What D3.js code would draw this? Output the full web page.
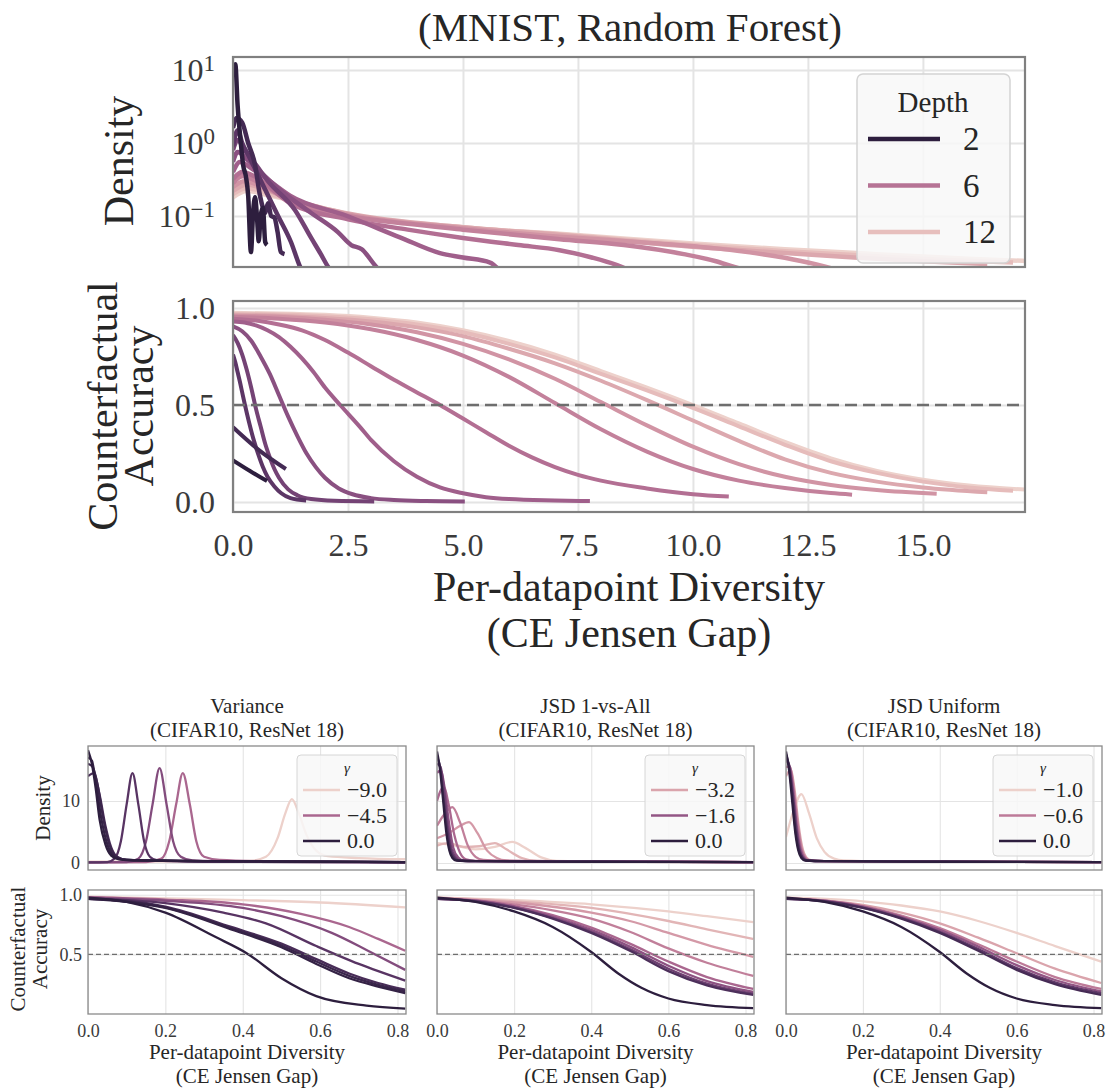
<!DOCTYPE html>
<html>
<head>
<meta charset="utf-8">
<script src="https://cdn.jsdelivr.net/npm/d3@7"></script>
<style>
  body { margin: 0; background: #fff; }
  svg { display: block; }
</style>
</head>
<body>
<div id="chart"></div>
<script>
// ---------- data: MNIST random forest (top) ----------
const depths = [2, 3, 4, 5, 6, 7, 8, 9, 10, 11, 12, 13];
const depthLegend = [2, 6, 12];

// [diversity, density] per depth
const mnistDensity = [
  [[0,9],[0.05,12],[0.1,3.3],[0.17,1.0],[0.22,0.5],[0.28,0.35],[0.33,0.19],[0.39,0.032],[0.44,0.12],[0.48,0.18],[0.52,0.1],[0.56,0.045],[0.6,0.1],[0.65,0.13],[0.7,0.044],[0.74,0.04]],
  [[0,1.6],[0.08,2.2],[0.2,1.9],[0.33,1.0],[0.48,0.5],[0.58,0.2],[0.65,0.13],[0.7,0.11],[0.76,0.15],[0.83,0.1],[0.9,0.095],[0.97,0.06],[1.04,0.032],[1.12,0.03]],
  [[0,0.9],[0.1,1.5],[0.2,1.0],[0.33,0.69],[0.61,0.3],[0.98,0.1],[1.26,0.044],[1.46,0.02],[1.59,0.014]],
  [[0,0.8],[0.1,1.1],[0.25,0.8],[0.5,0.5],[0.76,0.3],[1.35,0.12],[1.7,0.05],[1.91,0.03],[2.07,0.02],[2.3,0.014]],
  [[0,0.55],[0.1,0.75],[0.3,0.6],[0.6,0.4],[0.98,0.24],[1.7,0.11],[2.28,0.06],[2.57,0.04],[2.8,0.035],[3.09,0.021],[3.3,0.015]],
  [[0,0.4],[0.15,0.55],[0.4,0.45],[0.8,0.3],[1.24,0.19],[2.48,0.1],[3.63,0.051],[4.5,0.031],[5.0,0.027],[5.59,0.023],[5.8,0.018]],
  [[0,0.32],[0.2,0.4],[0.5,0.34],[1.24,0.15],[2.5,0.09],[3.8,0.065],[5,0.05],[6.2,0.04],[7.1,0.034],[7.8,0.027],[8.46,0.02],[8.8,0.016]],
  [[0,0.28],[0.2,0.35],[0.6,0.28],[1.24,0.16],[2.5,0.1],[3.8,0.078],[5,0.065],[7.1,0.048],[8.5,0.04],[9.8,0.03],[10.5,0.024],[10.9,0.02],[11.3,0.017]],
  [[0,0.25],[0.25,0.3],[0.7,0.24],[1.24,0.165],[2.5,0.105],[5,0.068],[7.1,0.052],[9,0.043],[10.5,0.036],[11.8,0.028],[12.5,0.023],[12.9,0.02],[13.3,0.017]],
  [[0,0.22],[0.3,0.27],[0.8,0.22],[1.24,0.17],[2.5,0.108],[5,0.07],[7.1,0.055],[10,0.038],[12,0.031],[13.5,0.027],[15,0.024],[16.4,0.022]],
  [[0,0.2],[0.3,0.24],[0.8,0.2],[1.24,0.168],[2.5,0.106],[5,0.07],[7.1,0.056],[10,0.04],[12,0.033],[14,0.028],[15.5,0.025],[16.96,0.023]],
  [[0,0.18],[0.3,0.22],[0.8,0.19],[1.24,0.165],[2.5,0.104],[5,0.069],[7.1,0.057],[10,0.042],[12,0.035],[14,0.03],[16,0.026],[17.4,0.024]]
];

// [diversity, counterfactual accuracy] per depth
const mnistAccuracy = [
  [[0,0.215],[0.37,0.16],[0.74,0.108]],
  [[0,0.385],[0.55,0.27],[1.15,0.17]],
  [[0,0.76],[0.05,0.72],[0.1,0.67],[0.15,0.62],[0.2,0.565],[0.26,0.5],[0.35,0.41],[0.45,0.32],[0.55,0.245],[0.65,0.18],[0.75,0.13],[0.9,0.08],[1.05,0.045],[1.25,0.02],[1.59,0.008]],
  [[0,0.86],[0.1,0.82],[0.2,0.76],[0.3,0.68],[0.4,0.585],[0.5,0.48],[0.6,0.39],[0.7,0.3],[0.8,0.23],[0.9,0.17],[1.0,0.125],[1.2,0.065],[1.4,0.035],[1.7,0.015],[2.2,0.006],[3.07,0.003]],
  [[0,0.905],[0.2,0.88],[0.4,0.83],[0.6,0.75],[0.8,0.66],[1.0,0.55],[1.2,0.44],[1.4,0.34],[1.6,0.25],[1.8,0.18],[2.0,0.125],[2.3,0.07],[2.6,0.04],[3,0.02],[3.5,0.01],[4.2,0.005],[5.04,0.003]],
  [[0,0.93],[0.25,0.925],[0.5,0.91],[0.75,0.885],[1,0.85],[1.25,0.8],[1.5,0.74],[1.75,0.67],[2,0.59],[2.33,0.5],[2.75,0.39],[3,0.32],[3.5,0.21],[4,0.13],[4.5,0.075],[5,0.045],[5.5,0.025],[6,0.015],[7,0.008],[7.76,0.005]],
  [[0,0.945],[0.5,0.935],[1,0.915],[1.5,0.885],[2,0.835],[2.5,0.77],[3,0.7],[3.5,0.63],[4,0.565],[4.5,0.5],[5,0.43],[5.5,0.36],[6,0.29],[6.5,0.23],[7,0.18],[7.5,0.14],[8,0.11],[9,0.07],[10,0.04],[10.78,0.028]],
  [[0,0.955],[1,0.945],[2,0.925],[3,0.89],[4,0.835],[5,0.755],[6,0.645],[7,0.51],[8,0.375],[9,0.26],[10,0.17],[11,0.11],[12,0.072],[13,0.046],[13.46,0.038]],
  [[0,0.96],[1,0.955],[2,0.94],[3,0.915],[4,0.875],[5,0.815],[6,0.735],[7,0.635],[8,0.515],[9,0.395],[10,0.285],[11,0.195],[12,0.13],[13,0.088],[14,0.062],[15.3,0.042]],
  [[0,0.965],[1,0.96],[2,0.948],[3,0.93],[4,0.9],[5,0.855],[6,0.79],[7,0.715],[8,0.625],[9,0.525],[10,0.42],[11,0.315],[12,0.22],[13,0.15],[14,0.105],[15,0.075],[16.4,0.05]],
  [[0,0.97],[1,0.967],[2,0.958],[3,0.942],[4,0.915],[5,0.875],[6,0.815],[7,0.745],[8,0.66],[9,0.575],[10,0.485],[11,0.39],[12,0.295],[13,0.21],[14,0.15],[15,0.105],[16,0.075],[16.96,0.058]],
  [[0,0.975],[1,0.972],[2,0.965],[3,0.95],[4,0.925],[5,0.885],[6,0.83],[7,0.76],[8,0.675],[9,0.59],[10,0.5],[11,0.405],[12,0.31],[13,0.225],[14,0.16],[15,0.115],[16,0.085],[17.4,0.062]]
];

const topXTicks = [0, 2.5, 5, 7.5, 10, 12.5, 15];
const topDensTicks = [0.1, 1, 10];
const accTicks = [0, 0.5, 1.0];

// ---------- data: CIFAR10 ResNet 18 (bottom) ----------
const varianceGamma = [0, -0.25, -0.5, -1, -1.5, -3, -4.5, -9];
const varianceLegend = [-9, -4.5, 0];
const varianceDensity = [
  [[0,18.2],[0.01,16],[0.02,12],[0.03,7],[0.045,3],[0.06,1.2],[0.08,0.6],[0.12,0.4],[0.3,0.3],[0.6,0.2],[0.82,0.15]],
  [[0,17],[0.01,16.5],[0.02,13],[0.035,7],[0.05,3],[0.065,1.2],[0.085,0.6],[0.12,0.45],[0.3,0.3],[0.6,0.2],[0.82,0.15]],
  [[0,16],[0.012,15.5],[0.025,12.5],[0.04,7],[0.055,3],[0.07,1.2],[0.09,0.6],[0.13,0.45],[0.3,0.3],[0.82,0.15]],
  [[0,14],[0.015,14.5],[0.03,11],[0.045,6],[0.06,2.5],[0.075,1.0],[0.1,0.5],[0.3,0.3],[0.82,0.15]],
  [[0,0.1],[0.05,0.15],[0.07,0.8],[0.085,3.5],[0.1,9.5],[0.115,14.5],[0.13,9.5],[0.145,3.5],[0.16,1.0],[0.18,0.4],[0.3,0.2],[0.82,0.1]],
  [[0,0.1],[0.1,0.15],[0.13,0.7],[0.15,3.5],[0.167,9.5],[0.185,15.3],[0.203,9.5],[0.22,3.5],[0.24,1.0],[0.27,0.4],[0.4,0.2],[0.82,0.1]],
  [[0,0.1],[0.15,0.15],[0.19,0.7],[0.21,3.5],[0.228,9.5],[0.245,14.5],[0.263,9.5],[0.28,3.5],[0.3,1.0],[0.34,0.5],[0.45,0.3],[0.82,0.15]],
  [[0,0.2],[0.3,0.25],[0.42,0.35],[0.46,1.0],[0.49,4],[0.51,8],[0.527,10.3],[0.545,8],[0.565,4.5],[0.59,2],[0.62,1.1],[0.7,0.8],[0.82,0.6]]
];
const varianceAccuracy = [
  [[0,0.975],[0.1,0.94],[0.2,0.85],[0.33,0.645],[0.41,0.51],[0.5,0.3],[0.59,0.15],[0.72,0.07],[0.82,0.045]],
  [[0,0.965],[0.1,0.94],[0.2,0.89],[0.37,0.71],[0.5,0.56],[0.59,0.42],[0.675,0.3],[0.75,0.23],[0.82,0.175]],
  [[0,0.965],[0.1,0.945],[0.2,0.895],[0.37,0.72],[0.5,0.575],[0.59,0.44],[0.675,0.32],[0.75,0.245],[0.82,0.19]],
  [[0,0.965],[0.1,0.95],[0.2,0.9],[0.37,0.73],[0.5,0.59],[0.59,0.46],[0.675,0.34],[0.75,0.26],[0.82,0.205]],
  [[0,0.97],[0.2,0.93],[0.35,0.85],[0.46,0.76],[0.59,0.57],[0.7,0.42],[0.82,0.28]],
  [[0,0.975],[0.2,0.95],[0.4,0.89],[0.5,0.82],[0.63,0.68],[0.73,0.52],[0.82,0.37]],
  [[0,0.98],[0.2,0.96],[0.4,0.92],[0.55,0.84],[0.675,0.73],[0.75,0.63],[0.82,0.53]],
  [[0,0.985],[0.2,0.97],[0.4,0.955],[0.6,0.935],[0.82,0.895]]
];

const jsdAllGamma = [0, -0.5, -1, -1.5, -2, -2.5, -3, -3.5, -4];
const jsdAllLegend = [-3.2, -1.6, 0];
const jsdAllDensity = [
  [[0,18],[0.008,15],[0.016,10],[0.024,5],[0.032,2],[0.04,0.8],[0.05,0.4],[0.1,0.3],[0.4,0.2],[0.82,0.15]],
  [[0,17],[0.008,15.5],[0.016,11],[0.026,5.5],[0.035,2],[0.045,0.8],[0.055,0.4],[0.1,0.3],[0.82,0.15]],
  [[0,16],[0.009,15.5],[0.018,12],[0.028,6],[0.038,2.2],[0.05,0.8],[0.06,0.4],[0.1,0.3],[0.82,0.15]],
  [[0,14.5],[0.01,15],[0.02,12],[0.03,7],[0.042,2.5],[0.055,0.9],[0.07,0.4],[0.1,0.3],[0.82,0.15]],
  [[0,10],[0.008,11.5],[0.018,12.3],[0.03,9.5],[0.045,4.5],[0.06,1.6],[0.075,0.6],[0.1,0.35],[0.82,0.15]],
  [[0,6],[0.015,7.5],[0.04,9],[0.06,6.5],[0.08,2.8],[0.1,1],[0.12,0.5],[0.2,0.3],[0.82,0.15]],
  [[0,4],[0.03,4.8],[0.06,6],[0.083,6.6],[0.105,4.8],[0.13,2],[0.155,0.8],[0.18,0.4],[0.3,0.25],[0.82,0.15]],
  [[0,2.8],[0.03,3.2],[0.07,2.6],[0.11,2.7],[0.15,3.2],[0.18,2.2],[0.22,0.8],[0.26,0.35],[0.4,0.2],[0.82,0.15]],
  [[0,3.2],[0.04,2.9],[0.1,2.2],[0.15,2.6],[0.195,3.4],[0.23,2.4],[0.27,0.9],[0.31,0.35],[0.45,0.2],[0.82,0.15]]
];
const jsdAllAccuracy = [
  [[0,0.975],[0.1,0.94],[0.2,0.86],[0.3,0.73],[0.4,0.52],[0.47,0.34],[0.53,0.22],[0.6,0.13],[0.7,0.075],[0.82,0.05]],
  [[0,0.965],[0.1,0.945],[0.2,0.89],[0.3,0.8],[0.4,0.68],[0.5,0.53],[0.6,0.36],[0.7,0.24],[0.82,0.16]],
  [[0,0.965],[0.1,0.947],[0.2,0.893],[0.3,0.805],[0.4,0.69],[0.5,0.545],[0.6,0.38],[0.7,0.255],[0.82,0.17]],
  [[0,0.965],[0.1,0.95],[0.2,0.9],[0.3,0.815],[0.4,0.705],[0.5,0.565],[0.6,0.405],[0.7,0.275],[0.82,0.185]],
  [[0,0.968],[0.1,0.953],[0.2,0.905],[0.3,0.83],[0.4,0.725],[0.5,0.59],[0.6,0.44],[0.7,0.31],[0.82,0.21]],
  [[0,0.97],[0.2,0.92],[0.3,0.87],[0.4,0.8],[0.5,0.69],[0.6,0.55],[0.7,0.43],[0.82,0.32]],
  [[0,0.972],[0.2,0.935],[0.4,0.85],[0.5,0.78],[0.6,0.68],[0.7,0.58],[0.82,0.48]],
  [[0,0.975],[0.2,0.945],[0.4,0.89],[0.6,0.78],[0.7,0.71],[0.82,0.63]],
  [[0,0.978],[0.2,0.955],[0.4,0.92],[0.6,0.86],[0.7,0.82],[0.82,0.77]]
];

const jsdUniGamma = [0, -0.1, -0.2, -0.4, -0.6, -0.8, -1.0];
const jsdUniLegend = [-1.0, -0.6, 0];
const jsdUniDensity = [
  [[0,18],[0.008,15],[0.016,10],[0.024,5],[0.032,2],[0.04,0.8],[0.05,0.4],[0.1,0.3],[0.4,0.2],[0.82,0.15]],
  [[0,17.5],[0.008,15.5],[0.017,10.5],[0.025,5.2],[0.034,2],[0.043,0.8],[0.053,0.4],[0.1,0.3],[0.82,0.15]],
  [[0,17],[0.009,15.5],[0.018,11],[0.027,5.5],[0.036,2],[0.045,0.8],[0.055,0.4],[0.1,0.3],[0.82,0.15]],
  [[0,16.5],[0.01,15.5],[0.019,11.5],[0.028,6],[0.038,2.2],[0.048,0.8],[0.058,0.4],[0.1,0.3],[0.82,0.15]],
  [[0,15.5],[0.01,15.5],[0.02,12],[0.03,6.5],[0.04,2.4],[0.05,0.9],[0.06,0.45],[0.1,0.3],[0.82,0.15]],
  [[0,14],[0.012,15],[0.022,12],[0.032,6.5],[0.042,2.6],[0.053,0.9],[0.065,0.45],[0.1,0.3],[0.82,0.15]],
  [[0,4.2],[0.02,8.5],[0.04,11.1],[0.06,8],[0.08,4],[0.1,1.8],[0.125,0.7],[0.15,0.4],[0.25,0.25],[0.82,0.15]]
];
const jsdUniAccuracy = [
  [[0,0.975],[0.1,0.94],[0.2,0.86],[0.3,0.73],[0.4,0.52],[0.47,0.34],[0.53,0.22],[0.6,0.13],[0.7,0.075],[0.82,0.05]],
  [[0,0.965],[0.1,0.945],[0.2,0.89],[0.3,0.8],[0.4,0.68],[0.5,0.53],[0.6,0.37],[0.7,0.25],[0.82,0.16]],
  [[0,0.965],[0.1,0.947],[0.2,0.893],[0.3,0.807],[0.4,0.69],[0.5,0.545],[0.6,0.385],[0.7,0.265],[0.82,0.175]],
  [[0,0.967],[0.1,0.95],[0.2,0.9],[0.3,0.815],[0.4,0.705],[0.5,0.565],[0.6,0.41],[0.7,0.285],[0.82,0.19]],
  [[0,0.968],[0.1,0.952],[0.2,0.905],[0.3,0.825],[0.4,0.72],[0.5,0.585],[0.6,0.44],[0.7,0.31],[0.82,0.21]],
  [[0,0.97],[0.2,0.915],[0.3,0.85],[0.4,0.76],[0.5,0.64],[0.6,0.51],[0.7,0.38],[0.82,0.26]],
  [[0,0.978],[0.2,0.945],[0.3,0.91],[0.4,0.86],[0.5,0.78],[0.6,0.68],[0.7,0.57],[0.82,0.44]]
];

const smallXTicks = [0, 0.2, 0.4, 0.6, 0.8];
const smallDensTicks = [0, 10];
const smallAccTicks = [0.5, 1.0];

// ---------- setup ----------
const FONT = '"Liberation Serif", "Times New Roman", serif';
const svg = d3.select("#chart").append("svg")
  .attr("width", 1107).attr("height", 1089)
  .attr("font-family", FONT);

// seaborn cubehelix_palette (start 0, rot .4, hue .8)
function cubehelix(x) {
  const a = 0.8 * x * (1 - x) / 2;
  const phi = 2 * Math.PI * (0.4 * x);
  const c = Math.cos(phi), s = Math.sin(phi);
  const cl = v => Math.max(0, Math.min(1, v)) * 255;
  return d3.rgb(
    cl(x + a * (-0.14861 * c + 1.78277 * s)),
    cl(x + a * (-0.29227 * c - 0.90649 * s)),
    cl(x + a * (1.97294 * c))
  ).formatHex();
}

let clipN = 0;
function clipFor(x0, y0, x1, y1) {
  const id = "clip" + (clipN++);
  svg.append("clipPath").attr("id", id).append("rect")
    .attr("x", x0).attr("y", y0).attr("width", x1 - x0).attr("height", y1 - y0);
  return `url(#${id})`;
}

function grid(x, y, box, xt, yt, w) {
  const gx = svg.append("g").attr("transform", `translate(0,${box.bottom})`)
    .call(d3.axisBottom(x).tickValues(xt).tickSize(-(box.bottom - box.top)).tickFormat(""));
  const gy = svg.append("g").attr("transform", `translate(${box.left},0)`)
    .call(d3.axisLeft(y).tickValues(yt).tickSize(-(box.right - box.left)).tickFormat(""));
  [gx, gy].forEach(g => {
    g.select(".domain").remove();
    g.selectAll("line").attr("stroke", "#e4e4e4").attr("stroke-width", w);
  });
}

function frame(box, w, c) {
  svg.append("rect").attr("x", box.left).attr("y", box.top)
    .attr("width", box.right - box.left).attr("height", box.bottom - box.top)
    .attr("fill", "none").attr("stroke", c).attr("stroke-width", w);
}

function labelsX(x, pos, ticks, fmt, pad, size) {
  const g = svg.append("g").attr("transform", `translate(0,${pos})`)
    .call(d3.axisBottom(x).tickValues(ticks).tickSize(0).tickPadding(pad).tickFormat(fmt));
  g.select(".domain").remove();
  g.attr("font-family", FONT).attr("font-size", size);
  g.selectAll("text").attr("fill", "#3a3a3a");
  return g;
}

function labelsY(y, pos, ticks, fmt, pad, size) {
  const g = svg.append("g").attr("transform", `translate(${pos},0)`)
    .call(d3.axisLeft(y).tickValues(ticks).tickSize(0).tickPadding(pad).tickFormat(fmt));
  g.select(".domain").remove();
  g.attr("font-family", FONT).attr("font-size", size);
  g.selectAll("text").attr("fill", "#3a3a3a");
  return g;
}

function curves(box, x, y, series, colors, width) {
  const line = d3.line().x(d => x(d[0])).y(d => y(d[1])).curve(d3.curveMonotoneX);
  const idx = d3.range(series.length).reverse(); // light first, dark on top
  svg.append("g").attr("clip-path", clipFor(box.left, box.top, box.right, box.bottom))
    .selectAll("path").data(idx).join("path")
    .attr("d", i => line(series[i]))
    .attr("fill", "none")
    .attr("stroke", i => colors[i])
    .attr("stroke-width", width)
    .attr("stroke-linejoin", "round");
}

function halfLine(box, y, w, dash) {
  svg.append("line").attr("x1", box.left).attr("x2", box.right)
    .attr("y1", y(0.5)).attr("y2", y(0.5))
    .attr("stroke", "#6e6e6e").attr("stroke-width", w).attr("stroke-dasharray", dash);
}

function rotLabel(x, y, txt, size) {
  svg.append("text").attr("transform", `translate(${x},${y}) rotate(-90)`)
    .attr("text-anchor", "middle").attr("font-size", size).attr("fill", "#262626").text(txt);
}

function centerText(x, y, txt, size) {
  svg.append("text").attr("x", x).attr("y", y).attr("text-anchor", "middle")
    .attr("font-size", size).attr("fill", "#262626").text(txt);
}

// ---------- top figure ----------
const topDBox = {left: 233, right: 1025, top: 57, bottom: 267};
const topABox = {left: 233, right: 1025, top: 301, bottom: 512};
const topX = d3.scaleLinear().domain([0, 17.22]).range([topDBox.left, topDBox.right]);
const topDens = d3.scaleLog().domain([0.02, 15.07]).range([topDBox.bottom, topDBox.top]);
const topAcc = d3.scaleLinear().domain([-0.0515, 1.036]).range([topABox.bottom, topABox.top]);
// palette steps evenly over the curves; legend keys placed on a log depth scale
const stepT = d3.scaleLinear().domain([0, depths.length - 1]).range([0.15, 0.85]);
const depthColors = depths.map((d, i) => cubehelix(stepT(i)));
const legendT = d3.scaleLog().domain([2, 14]).range([0.15, 0.85]);
const legendColor = d => cubehelix(legendT(d));

grid(topX, topDens, topDBox, topXTicks, topDensTicks, 2);
grid(topX, topAcc, topABox, topXTicks, accTicks, 2);

curves(topDBox, topX, topDens, mnistDensity, depthColors, 4.5);
curves(topABox, topX, topAcc, mnistAccuracy, depthColors, 4);
halfLine(topABox, topAcc, 2.6, "12,6");

frame(topDBox, 2.2, "#808080");
frame(topABox, 2.2, "#808080");

const logLab = labelsY(topDens, topDBox.left, topDensTicks, d => d, 18, 32);
logLab.selectAll("text").each(function(d) {
  const e = Math.round(Math.log10(d));
  const t = d3.select(this).text("10");
  t.append("tspan").attr("dy", "-0.42em").attr("font-size", 23)
    .text(e < 0 ? "\u2212" + (-e) : String(e));
});
labelsY(topAcc, topABox.left, accTicks, d3.format(".1f"), 18, 32);
labelsX(topX, topABox.bottom, topXTicks, d3.format(".1f"), 21, 32);

centerText(630, 41, "(MNIST, Random Forest)", 41);
rotLabel(133, 161, "Density", 42);
rotLabel(117, 406, "Counterfactual", 42);
rotLabel(153, 406, "Accuracy", 42);
centerText(629, 601, "Per-datapoint Diversity", 42);
centerText(629, 647, "(CE Jensen Gap)", 42);

// legend
const lg = svg.append("g");
lg.append("rect").attr("x", 857).attr("y", 74).attr("width", 153).attr("height", 189)
  .attr("rx", 6).attr("fill", "#f8f8f8").attr("fill-opacity", 0.85)
  .attr("stroke", "#d4d4d4").attr("stroke-width", 1.5);
lg.append("text").attr("x", 933).attr("y", 112).attr("text-anchor", "middle")
  .attr("font-size", 29).attr("fill", "#262626").text("Depth");
const legY = d3.scalePoint().domain(depthLegend).range([139, 232]);
lg.selectAll("line.e").data(depthLegend).join("line")
  .attr("x1", 868).attr("x2", 940).attr("y1", d => legY(d)).attr("y2", d => legY(d))
  .attr("stroke", legendColor).attr("stroke-width", 4.5);
lg.selectAll("text.e").data(depthLegend).join("text")
  .attr("x", 963).attr("y", d => legY(d) + 11)
  .attr("font-size", 33).attr("fill", "#262626").text(d => d);

// ---------- bottom figure ----------
const panels = [
  {title: "Variance", left: 88, right: 406, legX: 297,
   gamma: varianceGamma, legend: varianceLegend, dens: varianceDensity, acc: varianceAccuracy},
  {title: "JSD 1-vs-All", left: 437, right: 754, legX: 645,
   gamma: jsdAllGamma, legend: jsdAllLegend, dens: jsdAllDensity, acc: jsdAllAccuracy},
  {title: "JSD Uniform", left: 786, right: 1102, legX: 993,
   gamma: jsdUniGamma, legend: jsdUniLegend, dens: jsdUniDensity, acc: jsdUniAccuracy}
];

panels.forEach((p, k) => {
  const dBox = {left: p.left, right: p.right, top: 746, bottom: 870};
  const aBox = {left: p.left, right: p.right, top: 890, bottom: 1014};
  const x = d3.scaleLinear().domain([0, 0.822]).range([p.left, p.right]);
  const yD = d3.scaleLinear().domain([-1.13, 18.87]).range([dBox.bottom, dBox.top]);
  const yA = d3.scaleLinear().domain([0, 1.04]).range([aBox.bottom, aBox.top]);
  const gT = d3.scaleLinear().domain([d3.min(p.gamma), 0]).range([0.85, 0.15]);
  const col = g => cubehelix(gT(g));
  const colors = p.gamma.map(col);

  grid(x, yD, dBox, smallXTicks, smallDensTicks, 1.1);
  grid(x, yA, aBox, smallXTicks, smallAccTicks, 1.1);
  curves(dBox, x, yD, p.dens, colors, 2.3);
  curves(aBox, x, yA, p.acc, colors, 2.3);
  halfLine(aBox, yA, 1.3, "5,3");
  frame(dBox, 1.3, "#8a8a8a");
  frame(aBox, 1.3, "#8a8a8a");

  labelsX(x, aBox.bottom, smallXTicks, d3.format(".1f"), 10, 18);
  if (k === 0) {
    labelsY(yD, p.left, smallDensTicks, d3.format("d"), 8, 18);
    labelsY(yA, p.left, smallAccTicks, d3.format(".1f"), 6, 18);
    rotLabel(50, 808, "Density", 21);
    rotLabel(25, 949, "Counterfactual", 21);
    rotLabel(47, 949, "Accuracy", 21);
  }
  const cx = (p.left + p.right) / 2;
  centerText(cx, 713, p.title, 21);
  centerText(cx, 737, "(CIFAR10, ResNet 18)", 21);
  centerText(cx, 1059, "Per-datapoint Diversity", 21);
  centerText(cx, 1083, "(CE Jensen Gap)", 21);

  // legend
  const g = svg.append("g");
  g.append("rect").attr("x", p.legX).attr("y", 755).attr("width", 100).attr("height", 101)
    .attr("rx", 4).attr("fill", "#f8f8f8").attr("fill-opacity", 0.85)
    .attr("stroke", "#d6d6d6").attr("stroke-width", 1);
  g.append("text").attr("x", p.legX + 50).attr("y", 773).attr("text-anchor", "middle")
    .attr("font-size", 15).attr("font-style", "italic").attr("fill", "#262626").text("\u03b3");
  const ly = d3.scalePoint().domain(p.legend).range([790, 841]);
  g.selectAll("line.e").data(p.legend).join("line")
    .attr("x1", p.legX + 6).attr("x2", p.legX + 43)
    .attr("y1", d => ly(d)).attr("y2", d => ly(d))
    .attr("stroke", col).attr("stroke-width", 2.6);
  g.selectAll("text.e").data(p.legend).join("text")
    .attr("x", p.legX + 50).attr("y", d => ly(d) + 7)
    .attr("font-size", 22).attr("fill", "#262626")
    .text(d => d3.format(".1f")(d));
});
</script>
</body>
</html>
